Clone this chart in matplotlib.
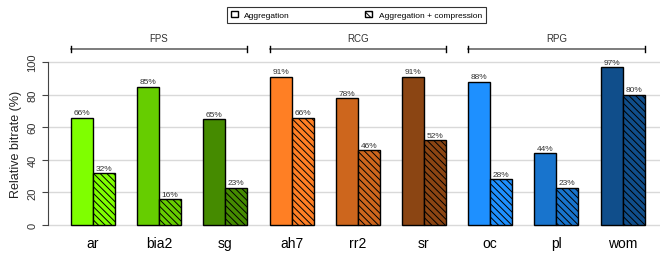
import matplotlib.pyplot as plt
from matplotlib.patches import Patch
import numpy as np

games = ["ar", "bia2", "sg", "ah7", "rr2", "sr", "oc", "pl", "wom"]
aggregation = [66, 85, 65, 91, 78, 91, 88, 44, 97]
agg_compression = [32, 16, 23, 66, 46, 52, 28, 23, 80]
colors = ["#7FFF00", "#66CD00", "#458B00",
          "#FF7F24", "#CD661D", "#8B4513",
          "#1E90FF", "#1874CD", "#104E8B"]
genres = ["FPS", "RCG", "RPG"]
genre_members = [[0, 1, 2], [3, 4, 5], [6, 7, 8]]

plt.rcParams['font.family'] = ['Liberation Sans', 'DejaVu Sans']
plt.rcParams['hatch.linewidth'] = 0.7

fig = plt.figure(figsize=(6.65, 2.55), dpi=100)
ax = fig.add_axes([0.072, 0.088, 0.92, 0.69])

x = np.arange(len(games))
w = 0.332
hatch = "\\\\\\\\\\"
ax.bar(x - w / 2, aggregation, w, color=colors, edgecolor="black", linewidth=1.0, zorder=3)
ax.bar(x + w / 2, agg_compression, w, color=colors, edgecolor="black", linewidth=1.0,
       hatch=hatch, zorder=3)

for i in range(len(games)):
    ax.text(x[i] - w / 2, aggregation[i] + 0.8, f"{aggregation[i]}%", ha="center", va="bottom",
            fontsize=6, color="#333333")
    ax.text(x[i] + w / 2, agg_compression[i] + 0.8, f"{agg_compression[i]}%", ha="center",
            va="bottom", fontsize=6, color="#333333")

# genre brackets
for g, members in zip(genres, genre_members):
    x0 = members[0] - w
    x1 = members[-1] + w
    ax.plot([x0, x1], [108, 108], color="#666666", lw=1.2, clip_on=False)
    ax.plot([x0, x0], [106, 110], color="black", lw=1.0, clip_on=False)
    ax.plot([x1, x1], [106, 110], color="black", lw=1.0, clip_on=False)
    ax.text((x0 + x1) / 2, 112, g, ha="center", va="bottom", fontsize=7, color="#333333")

ax.set_xlim(-0.68, 8.56)
ax.set_ylim(-4, 104)
ax.set_yticks([0, 20, 40, 60, 80, 100])
ax.set_yticklabels(["0", "20", "40", "60", "80", "100"], rotation=90, va="center", fontsize=8,
                   color="#333333")
ax.set_ylabel("Relative bitrate (%)", fontsize=9, color="#222222")
ax.set_xticks(x)
ax.set_xticklabels(games, fontsize=10)
ax.tick_params(axis="x", length=0, pad=3)
ax.tick_params(axis="y", length=4, color="#444444")

for s in ["top", "right", "bottom"]:
    ax.spines[s].set_visible(False)
ax.spines["left"].set_bounds(0, 100)
ax.spines["left"].set_color("#444444")
ax.grid(axis="y", color="#d9d9d9", lw=1.0, zorder=0)
ax.set_axisbelow(True)

handles = [Patch(facecolor="white", edgecolor="black", label="Aggregation"),
           Patch(facecolor="white", edgecolor="black", hatch=hatch, label="Aggregation + compression")]
leg = fig.legend(handles=handles, loc="center", bbox_to_anchor=(0.536, 0.937), ncol=2,
                 fontsize=6, frameon=True, fancybox=False, edgecolor="black",
                 handlelength=0.8, handleheight=0.8, columnspacing=9, borderpad=0.5)
leg.get_frame().set_linewidth(0.8)

fig.savefig("out.png", dpi=100)
